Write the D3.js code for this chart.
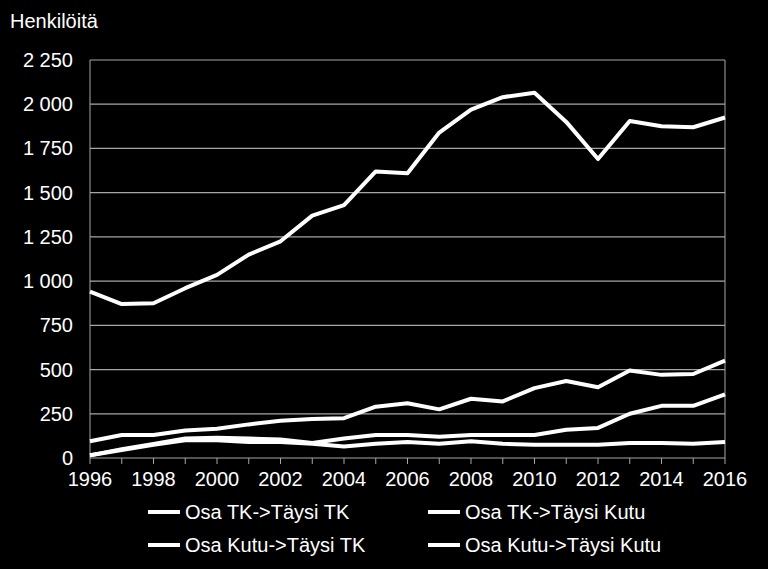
<!DOCTYPE html><html><head><script src="https://cdn.jsdelivr.net/npm/d3@7"></script>
<style>body{margin:0;background:#000}text{font-family:"Liberation Sans",Arial,sans-serif;fill:#fff}</style></head><body><svg id="c" width="768" height="569"></svg><script>
const years=d3.range(1996,2017);
const seriesNames=["Osa TK->Täysi TK","Osa TK->Täysi Kutu","Osa Kutu->Täysi TK","Osa Kutu->Täysi Kutu"];
const s1=[940,870,875,960,1035,1150,1225,1370,1430,1620,1610,1840,1970,2040,2065,1900,1690,1905,1875,1870,1925];
const s2=[95,130,130,155,165,190,210,220,225,290,310,275,335,320,395,435,400,495,470,475,550];
const s3=[15,50,80,110,115,110,105,85,110,130,130,120,130,130,130,160,170,250,295,295,360];
const s4=[15,45,75,100,100,90,90,80,65,80,90,80,95,80,75,75,75,85,85,80,90];
const yTicks=[0,250,500,750,1000,1250,1500,1750,2000,2250];
const xTicks=d3.range(1996,2017,2);
const svg=d3.select("#c");
const x=d3.scaleLinear().domain([1996,2016]).range([90,725]);
const y=d3.scaleLinear().domain([0,2250]).range([458,60]);
const fmt=v=>v>=1000?Math.floor(v/1000)+" "+String(v%1000).padStart(3,"0"):String(v);
svg.append("g").selectAll("line").data(yTicks).join("line").attr("x1",90).attr("x2",725).attr("y1",d=>y(d)).attr("y2",d=>y(d)).attr("stroke","#a6a6a6").attr("stroke-width",1.2);
svg.append("line").attr("x1",90).attr("x2",90).attr("y1",60).attr("y2",458).attr("stroke","#a6a6a6");
svg.append("line").attr("x1",725).attr("x2",725).attr("y1",60).attr("y2",458).attr("stroke","#a6a6a6");
svg.append("g").selectAll("line").data(d3.range(1996,2017)).join("line").attr("x1",d=>x(d)).attr("x2",d=>x(d)).attr("y1",458).attr("y2",464).attr("stroke","#a6a6a6");
svg.append("g").selectAll("text").data(yTicks).join("text").attr("x",73).attr("y",d=>y(d)+7).attr("text-anchor","end").attr("font-size",20).text(fmt);
svg.append("g").selectAll("text").data(xTicks).join("text").attr("x",d=>x(d)).attr("y",486).attr("text-anchor","middle").attr("font-size",20).text(d=>d);
svg.append("text").attr("x",10).attr("y",28).attr("font-size",20).text("Henkilöitä");
const line=d3.line().x((d,i)=>x(years[i])).y(d=>y(d));
[s1,s2,s3,s4].forEach(s=>svg.append("path").attr("d",line(s)).attr("fill","none").attr("stroke","#fff").attr("stroke-width",4).attr("stroke-linejoin","round"));
const leg=[[148,512],[428,512],[148,545],[428,545]];
seriesNames.forEach((n,i)=>{const [lx,ly]=leg[i];
svg.append("line").attr("x1",lx).attr("x2",lx+32).attr("y1",ly).attr("y2",ly).attr("stroke","#fff").attr("stroke-width",4);
svg.append("text").attr("x",lx+37).attr("y",ly+7).attr("font-size",20).text(n);});
</script></body></html>
